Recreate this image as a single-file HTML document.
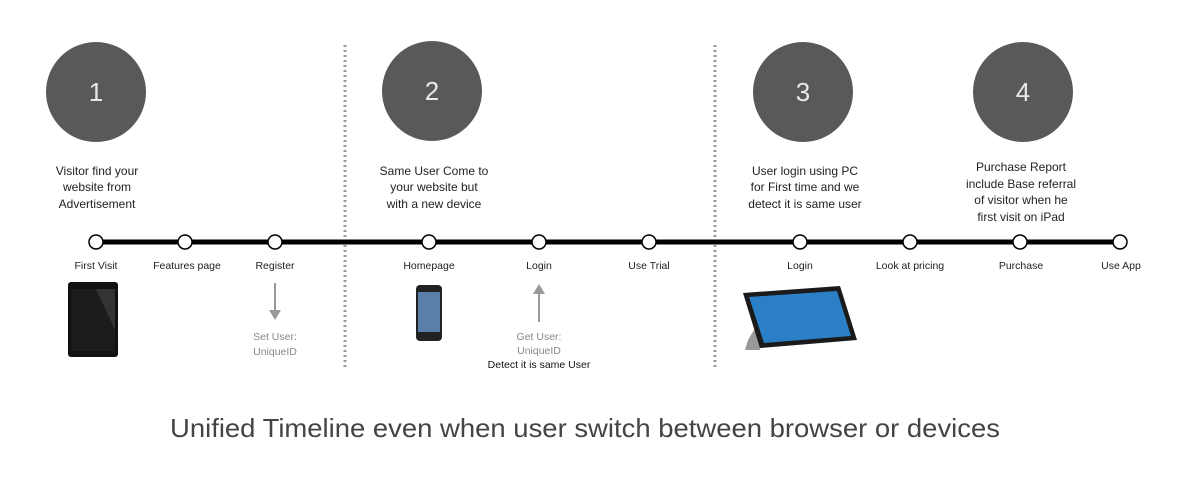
<!DOCTYPE html>
<html><head><style>
body{margin:0;background:#fff;}
svg text{font-family:"Liberation Sans",sans-serif;}
</style></head><body>
<svg width="1192" height="493" viewBox="0 0 1192 493" xmlns="http://www.w3.org/2000/svg">
<rect width="1192" height="493" fill="#fff"/>
<g stroke="#999" stroke-width="3" stroke-dasharray="2 3">
<line x1="345" y1="45" x2="345" y2="370"/>
<line x1="715" y1="45" x2="715" y2="370"/>
</g>
<g fill="#595959">
<circle cx="96" cy="92" r="50"/><circle cx="432" cy="91" r="50"/>
<circle cx="803" cy="92" r="50"/><circle cx="1023" cy="92" r="50"/>
</g>
<g fill="#e8e8e8" font-size="26" text-anchor="middle">
<text x="96" y="101">1</text><text x="432" y="100">2</text>
<text x="803" y="101">3</text><text x="1023" y="101">4</text>
</g>
<g font-size="12" fill="#222" text-anchor="middle">
<text x="97" y="175">Visitor find your</text><text x="97" y="191">website from</text><text x="97" y="208">Advertisement</text>
<text x="434" y="175">Same User Come to</text><text x="434" y="191">your website but</text><text x="434" y="208">with a new device</text>
<text x="805" y="175">User login using PC</text><text x="805" y="191">for First time and we</text><text x="805" y="208">detect it is same user</text>
<text x="1021" y="171">Purchase Report</text><text x="1021" y="188">include Base referral</text><text x="1021" y="204">of visitor when he</text><text x="1021" y="221">first visit on iPad</text>
</g>
<line x1="96" y1="242" x2="1120" y2="242" stroke="#000" stroke-width="5"/>
<g fill="#fff" stroke="#000" stroke-width="1.5">
<circle cx="96" cy="242" r="7"/><circle cx="185" cy="242" r="7"/><circle cx="275" cy="242" r="7"/>
<circle cx="429" cy="242" r="7"/><circle cx="539" cy="242" r="7"/><circle cx="649" cy="242" r="7"/>
<circle cx="800" cy="242" r="7"/><circle cx="910" cy="242" r="7"/><circle cx="1020" cy="242" r="7"/><circle cx="1120" cy="242" r="7"/>
</g>
<g font-size="10.5" fill="#222" text-anchor="middle">
<text x="96" y="269">First Visit</text><text x="187" y="269">Features page</text><text x="275" y="269">Register</text>
<text x="429" y="269">Homepage</text><text x="539" y="269">Login</text><text x="649" y="269">Use Trial</text>
<text x="800" y="269">Login</text><text x="910" y="269">Look at pricing</text><text x="1021" y="269">Purchase</text><text x="1121" y="269">Use App</text>
</g>
<g stroke="#999" stroke-width="2" fill="#999">
<line x1="275" y1="283" x2="275" y2="314"/><polygon points="269,310 281,310 275,320" stroke="none"/>
<line x1="539" y1="292" x2="539" y2="322"/><polygon points="533,294 545,294 539,284" stroke="none"/>
</g>
<g font-size="10.5" fill="#888" text-anchor="middle">
<text x="275" y="340">Set User:</text><text x="275" y="355">UniqueID</text>
<text x="539" y="340">Get User:</text><text x="539" y="354">UniqueID</text>
</g>
<text x="539" y="368" font-size="10.5" fill="#111" text-anchor="middle">Detect it is same User</text>
<rect x="68" y="282" width="50" height="75" rx="3" fill="#111"/>
<rect x="71" y="289" width="44" height="62" fill="#1c1c1c"/>
<polygon points="96,289 115,289 115,330" fill="#333"/>
<rect x="416" y="285" width="26" height="56" rx="4" fill="#222"/>
<rect x="418" y="292" width="22" height="40" fill="#5a7fa8"/>
<polygon points="748,340 760,320 760,350 745,350" fill="#999"/>
<polygon points="743,293 840,286 857,340 760,348" fill="#1a1a1a"/>
<polygon points="749,297 837,291 851,336 764,343" fill="#2a7fc6"/>
<text x="170" y="437" font-size="26" fill="#444" textLength="830" lengthAdjust="spacingAndGlyphs">Unified Timeline even when user switch between browser or devices</text>
</svg>
</body></html>
